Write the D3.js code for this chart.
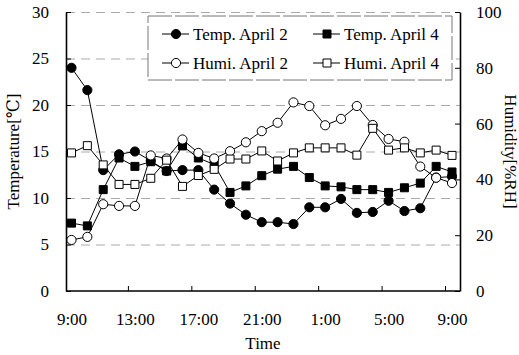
<!DOCTYPE html>
<html>
<head>
<meta charset="utf-8">
<script src="https://cdn.jsdelivr.net/npm/d3@7"></script>
<style>
  body { margin: 0; background: #fff; }
  svg text { font-family: "Liberation Serif", "Times New Roman", Tinos, "DejaVu Serif", serif; }
</style>
</head>
<body>
<div id="chart"></div>
<script>

// hours after 9:00 (hourly readings)
const hours = [0, 1, 2, 3, 4, 5, 6, 7, 8, 9, 10, 11, 12, 13, 14, 15, 16, 17, 18, 19, 20, 21, 22, 23, 24];
const timeTicks = [0, 4, 8, 12, 16, 20, 24];
const timeLabels = ["9:00", "13:00", "17:00", "21:00", "1:00", "5:00", "9:00"];
const tempTicks = [0, 5, 10, 15, 20, 25, 30];
const humiTicks = [0, 20, 40, 60, 80, 100];

const tempApr2 = [24.0, 21.6, 13.0, 14.7, 15.0, 14.0, 12.9, 13.0, 13.0, 10.9, 9.4, 8.2, 7.4, 7.4, 7.2, 9.0, 9.0, 9.9, 8.4, 8.5, 9.7, 8.6, 8.9, 12.2, 12.3];
const tempApr4 = [7.3, 7.0, 10.9, 14.3, 13.4, 13.9, 12.9, 15.6, 14.3, 13.6, 10.6, 11.3, 12.4, 13.1, 13.4, 12.2, 11.3, 11.2, 10.9, 10.9, 10.6, 11.1, 11.6, 13.4, 12.8];
const humiApr2 = [18.3, 19.4, 31.1, 30.5, 30.5, 48.6, 47.5, 54.3, 49.5, 47.5, 50.1, 53.3, 57.3, 60.3, 67.6, 66.3, 59.4, 61.7, 66.3, 59.5, 54.5, 53.5, 44.6, 40.6, 38.7];
const humiApr4 = [49.5, 52.1, 45.2, 38.2, 38.2, 40.4, 46.9, 37.5, 41.4, 43.6, 47.3, 47.3, 50.2, 46.6, 49.5, 51.3, 51.3, 51.3, 48.7, 58.3, 50.5, 51.3, 49.5, 50.5, 48.6];

const width = 519;
const height = 355;
const plot = {left: 66, right: 460, top: 12, bottom: 291};
const serif = '"Liberation Serif", "Times New Roman", Tinos, "DejaVu Serif", serif';

const svg = d3.select("#chart")
  .append("svg")
  .attr("width", width)
  .attr("height", height)
  .attr("font-family", serif);

const x = d3.scaleLinear().domain([0, 24]).range([71.5, 452]);
const yT = d3.scaleLinear().domain([0, 30]).range([plot.bottom, plot.top]);
const yH = d3.scaleLinear().domain([0, 100]).range([plot.bottom, plot.top]);

// dashed grid
svg.append("g")
  .attr("transform", `translate(${plot.left},0)`)
  .call(d3.axisLeft(yT).tickValues(tempTicks.slice(1)).tickSize(-(plot.right - plot.left)).tickFormat(""))
  .call(g => g.select(".domain").remove())
  .selectAll("line")
  .attr("stroke", "#aaa")
  .attr("stroke-dasharray", "9,6");

// left axis
svg.append("g")
  .attr("transform", `translate(${plot.left},0)`)
  .call(d3.axisLeft(yT).tickValues(tempTicks).tickSizeInner(-5).tickSizeOuter(0).tickPadding(17))
  .attr("font-family", serif)
  .call(g => g.selectAll("text").attr("font-size", "17px").attr("fill", "#000"))
  .call(g => g.select(".domain").attr("stroke-width", 1.6));

// right axis
svg.append("g")
  .attr("transform", `translate(${plot.right},0)`)
  .call(d3.axisRight(yH).tickValues(humiTicks).tickSizeInner(-5).tickSizeOuter(0).tickPadding(16))
  .attr("font-family", serif)
  .call(g => g.selectAll("text").attr("font-size", "17px").attr("fill", "#000"))
  .call(g => g.select(".domain").attr("stroke-width", 1.6));

// bottom axis: labels, then tick marks (they sit a little left of the labels in the original)
svg.append("g")
  .attr("transform", `translate(0,${plot.bottom})`)
  .call(d3.axisBottom(x).tickValues(timeTicks).tickFormat((d, i) => timeLabels[i]).tickSize(0).tickPadding(22))
  .attr("font-family", serif)
  .call(g => g.select(".domain").remove())
  .call(g => g.selectAll("text").attr("font-size", "17px").attr("fill", "#000"));

const xTick = x.copy().range([x.range()[0] - 7, x.range()[1] - 7]);
svg.append("g")
  .attr("transform", `translate(0,${plot.bottom})`)
  .call(d3.axisBottom(xTick).tickValues(timeTicks.slice(1)).tickSize(-5).tickFormat(""))
  .call(g => g.select(".domain").remove());

svg.append("line")
  .attr("x1", plot.left).attr("x2", plot.right)
  .attr("y1", plot.bottom).attr("y2", plot.bottom)
  .attr("stroke", "#000").attr("stroke-width", 1.6);

// axis titles
svg.append("text")
  .attr("transform", `translate(19,${(plot.top + plot.bottom) / 2}) rotate(-90)`)
  .attr("text-anchor", "middle")
  .attr("font-size", "17px")
  .text("Temperature[℃]");

svg.append("text")
  .attr("transform", `translate(505,${(plot.top + plot.bottom) / 2}) rotate(90)`)
  .attr("text-anchor", "middle")
  .attr("font-size", "17px")
  .text("Humidity[%RH]");

svg.append("text")
  .attr("x", (plot.left + plot.right) / 2)
  .attr("y", 349)
  .attr("text-anchor", "middle")
  .attr("font-size", "17px")
  .text("Time");

const series = [
  {name: "Temp. April 2", values: tempApr2, y: yT, type: d3.symbolCircle, size: 66, fill: "#000"},
  {name: "Temp. April 4", values: tempApr4, y: yT, type: d3.symbolSquare, size: 64, fill: "#000"},
  {name: "Humi. April 2", values: humiApr2, y: yH, type: d3.symbolCircle, size: 66, fill: "#fff"},
  {name: "Humi. April 4", values: humiApr4, y: yH, type: d3.symbolSquare, size: 64, fill: "#fff"}
];

series.forEach(s => {
  const line = d3.line()
    .x((d, i) => x(hours[i]))
    .y(d => s.y(d));

  svg.append("path")
    .datum(s.values)
    .attr("d", line)
    .attr("fill", "none")
    .attr("stroke", "#000")
    .attr("stroke-width", 1);

  svg.selectAll(null)
    .data(s.values)
    .enter()
    .append("path")
    .attr("transform", (d, i) => `translate(${x(hours[i])},${s.y(d)})`)
    .attr("d", d3.symbol(s.type, s.size))
    .attr("fill", s.fill)
    .attr("stroke", "#000")
    .attr("stroke-width", 1);
});

// legend
const legend = svg.append("g");
legend.append("rect")
  .attr("x", 148).attr("y", 16)
  .attr("width", 304).attr("height", 64)
  .attr("fill", "#fff")
  .attr("stroke", "#777")
  .attr("stroke-dasharray", "24,3");

series.forEach((s, i) => {
  const col = i % 2, row = Math.floor(i / 2);
  const lx = 162 + col * 151;
  const ly = 34 + row * 29;
  legend.append("line")
    .attr("x1", lx).attr("x2", lx + 27)
    .attr("y1", ly).attr("y2", ly)
    .attr("stroke", "#000");
  legend.append("path")
    .attr("transform", `translate(${lx + 14},${ly})`)
    .attr("d", d3.symbol(s.type, s.size))
    .attr("fill", s.fill)
    .attr("stroke", "#000");
  legend.append("text")
    .attr("x", lx + 31)
    .attr("y", ly + 6)
    .attr("font-size", "17px")
    .text(s.name);
});

</script>
</body>
</html>
